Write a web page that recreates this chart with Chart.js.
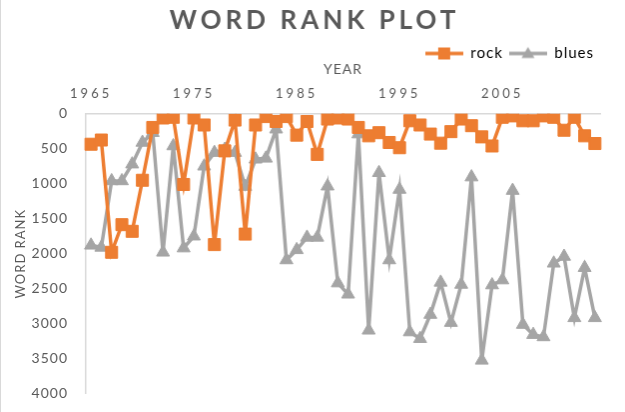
<!DOCTYPE html>
<html>
<head>
<meta charset="utf-8">
<script src="https://cdn.jsdelivr.net/npm/chart.js@4"></script>
<style>
  body { margin: 0; background: #fff; }
  #wrap { width: 625px; height: 412px; }
  canvas { display: block; border-left: 1px solid #d9d9d9; }
</style>
</head>
<body>
<div id="wrap"><canvas id="rankChart" width="624" height="412"></canvas></div>
<script>
const years = ['1965', '1966', '1967', '1968', '1969', '1970', '1971', '1972', '1973', '1974',
               '1975', '1976', '1977', '1978', '1979', '1980', '1981', '1982', '1983', '1984',
               '1985', '1986', '1987', '1988', '1989', '1990', '1991', '1992', '1993', '1994',
               '1995', '1996', '1997', '1998', '1999', '2000', '2001', '2002', '2003', '2004',
               '2005', '2006', '2007', '2008', '2009', '2010', '2011', '2012', '2013', '2014'];
const shownYears = ['1965', '1975', '1985', '1995', '2005'];

const rockRank = [435, 375, 1980, 1585, 1680, 950, 195, 60, 50, 1010,
                  60, 160, 1870, 530, 90, 1720, 160, 40, 110, 40,
                  305, 110, 580, 75, 60, 75, 195, 315, 270, 410,
                  485, 100, 160, 290, 420, 255, 75, 170, 330, 460,
                  50, 30, 100, 100, 30, 50, 235, 50, 315, 425];
const bluesRank = [1880, 1910, 960, 960, 720, 410, 270, 1980, 460, 1920,
                   1750, 750, 555, 510, 555, 1040, 650, 637, 220, 2090,
                   1945, 1767, 1767, 1035, 2420, 2580, 290, 3095, 843, 2090,
                   1082, 3120, 3215, 2870, 2410, 2985, 2440, 905, 3525, 2448,
                   2377, 1097, 3013, 3157, 3190, 2137, 2040, 2917, 2200, 2917];

const ORANGE = '#ED7D31';
const GREY = '#A5A5A5';
const TEXT = '#595959';
const FONT = 'Lato';

// legend swatch: line with the marker in the middle, like Excel
function swatch(color, shape) {
    const c = document.createElement('canvas');
    c.width = 38; c.height = 16;
    const g = c.getContext('2d');
    g.strokeStyle = color;
    g.fillStyle = color;
    g.lineWidth = 3.5;
    g.beginPath(); g.moveTo(0, 8); g.lineTo(38, 8); g.stroke();
    g.beginPath();
    if (shape === 'rect') {
        g.rect(13, 2, 12, 12);
    } else {
        g.moveTo(19, 1.5); g.lineTo(25.5, 12.5); g.lineTo(12.5, 12.5); g.closePath();
    }
    g.fill();
    return c;
}

const spacing = {
    id: 'spacing',
    beforeUpdate(chart) { chart.ctx.letterSpacing = '1px'; },
    beforeDraw(chart) { chart.ctx.letterSpacing = '1px'; },
    afterDatasetsDraw(chart) { chart.ctx.letterSpacing = '3px'; },
    afterDraw(chart) {
        const ctx = chart.ctx;
        ctx.save();
        ctx.letterSpacing = '4px';
        ctx.font = `bold 26px ${FONT}`;
        ctx.fillStyle = TEXT;
        ctx.textAlign = 'center';
        ctx.textBaseline = 'alphabetic';
        ctx.fillText('WORD RANK PLOT', chart.width / 2 + 2, 29);
        ctx.restore();
        ctx.letterSpacing = '1px';
    }
};

new Chart(document.getElementById('rankChart'), {
    type: 'line',
    data: {
        labels: years,
        datasets: [
            {
                label: 'rock',
                data: rockRank,
                borderColor: ORANGE,
                backgroundColor: ORANGE,
                borderWidth: 3.5,
                pointStyle: 'rect',
                pointRadius: 8.5,
                pointBorderWidth: 1,
                tension: 0
            },
            {
                label: 'blues',
                data: bluesRank,
                borderColor: GREY,
                backgroundColor: GREY,
                borderWidth: 3.5,
                pointStyle: 'triangle',
                pointRadius: 7.5,
                pointBorderWidth: 1,
                tension: 0
            }
        ]
    },
    options: {
        responsive: false,
        animation: false,
        layout: { padding: { top: 40, left: 8, right: 24, bottom: 16 } },
        plugins: {
            title: { display: false },
            tooltip: { enabled: false },
            legend: {
                position: 'top',
                align: 'end',
                labels: {
                    usePointStyle: true,
                    pointStyleWidth: 38,
                    boxHeight: 16,
                    padding: 6,
                    color: TEXT,
                    font: { family: FONT, size: 15 },
                    generateLabels: (chart) => chart.data.datasets.map((ds, i) => ({
                        text: ds.label,
                        fillStyle: ds.borderColor,
                        strokeStyle: ds.borderColor,
                        lineWidth: 0,
                        pointStyle: swatch(ds.borderColor, ds.pointStyle),
                        datasetIndex: i,
                        hidden: false
                    }))
                }
            }
        },
        scales: {
            x: {
                position: 'top',
                offset: true,
                grid: { display: false },
                border: { display: true, color: '#D9D9D9', width: 1.5 },
                title: {
                    display: true,
                    text: 'YEAR',
                    color: TEXT,
                    font: { family: FONT, size: 14 },
                    padding: { top: -10, bottom: 5 }
                },
                ticks: {
                    autoSkip: false,
                    maxRotation: 0,
                    padding: 5,
                    z: 1,
                    color: TEXT,
                    font: { family: FONT, size: 13, lineHeight: 1 },
                    callback: function (value, index) {
                        const lab = years[index];
                        return shownYears.includes(lab) ? lab : '';
                    }
                }
            },
            y: {
                reverse: true,
                min: 0,
                max: 4000,
                grid: { display: false },
                border: { display: true, color: '#D9D9D9', width: 1.5 },
                title: {
                    display: true,
                    text: 'WORD RANK',
                    color: TEXT,
                    font: { family: FONT, size: 13 }
                },
                ticks: {
                    stepSize: 500,
                    padding: 10,
                    color: TEXT,
                    font: { family: FONT, size: 14 },
                    callback: (value) => String(value)
                },
                afterFit: (scale) => { scale.width = 77; }
            }
        }
    },
    plugins: [spacing]
});
</script>
</body>
</html>
